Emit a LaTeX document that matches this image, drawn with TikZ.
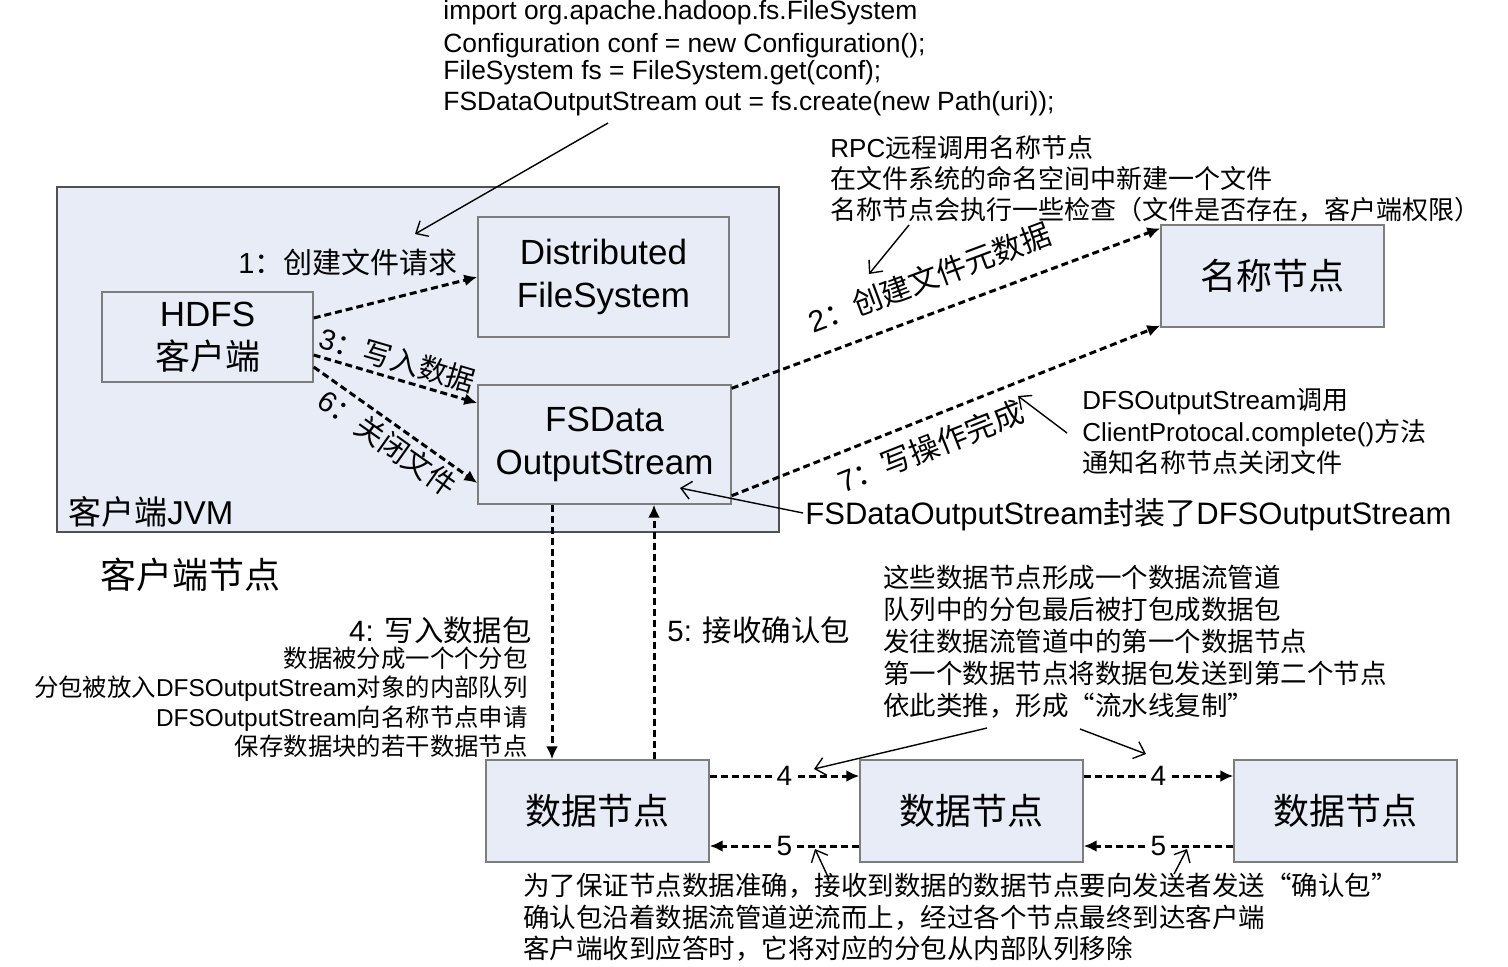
\documentclass[tikz,border=0pt]{standalone}
\usepackage{fontspec}
\setmainfont{Liberation Sans}
\newfontfamily\zhfont{Noto Sans CJK SC}
\newfontfamily\enfont{Liberation Sans}
\usetikzlibrary{arrows.meta}

% switch to the CJK face for Chinese characters
\XeTeXinterchartokenstate=1
\newXeTeXintercharclass\zhclass
\newcount\zhcode
\zhcode="4E00
\loop
  \XeTeXcharclass\zhcode=\zhclass
  \advance\zhcode by 1
\ifnum\zhcode<"9FA6 \repeat
\XeTeXcharclass"FF08=\zhclass
\XeTeXcharclass"FF09=\zhclass
\XeTeXcharclass"FF0C=\zhclass
\XeTeXcharclass"FF1A=\zhclass
\XeTeXcharclass"201C=\zhclass
\XeTeXcharclass"201D=\zhclass
\XeTeXinterchartoks 0 \zhclass = {\zhfont}
\XeTeXinterchartoks 4095 \zhclass = {\zhfont}
\XeTeXinterchartoks \zhclass 0 = {\enfont}
\XeTeXinterchartoks 4095 0 = {\enfont}

\definecolor{boxfill}{RGB}{231,236,246}
\definecolor{boxline}{RGB}{125,125,125}
\definecolor{jvmline}{RGB}{80,80,80}

\tikzset{
  box/.style={draw=boxline, fill=boxfill, line width=0.7pt, align=center, inner sep=0pt},
  jvmbox/.style={draw=jvmline, fill=boxfill, line width=0.6pt, inner sep=0pt},
  flow/.style={line width=1.5pt, dash pattern=on 3.5pt off 2pt, -{Latex[length=6.5pt,width=6pt]}},
  note/.style={line width=0.7pt, -{Straight Barb[length=5pt,width=9pt]}},
  txt/.style={align=left, inner sep=0pt, anchor=west},
  lbl/.style={inner sep=1pt, font=\fontsize{14.5}{17}\selectfont},
  biglbl/.style={inner sep=1pt, font=\fontsize{15}{18}\selectfont},
  hop/.style={inner sep=1pt, fill=white, font=\fontsize{14}{16}\selectfont},
}
\newcommand{\boxfont}{\fontsize{17.5}{21.5}\selectfont}
\newcommand{\nodefont}{\fontsize{18}{21}\selectfont}

\begin{document}
\begin{tikzpicture}[x=0.5pt,y=-0.5pt]
\useasboundingbox (0,0) rectangle (1508,966);

% client node
\node[jvmbox, minimum width=361pt, minimum height=172.5pt] (jvm) at (418,359.5) {};
\node[txt, font=\fontsize{16.5}{19}\selectfont] (jvmlbl) at (68,512) {客户端JVM};
\node[txt, font=\nodefont] (clnode) at (100,575) {客户端节点};

\node[box, minimum width=105.5pt, minimum height=45pt, font=\boxfont] (hdfs) at (207.5,337) {HDFS\\客户端};
\node[box, minimum width=125.5pt, minimum height=60pt, font=\boxfont] (dfs) at (603.5,277) {Distributed\\FileSystem};
\node[box, minimum width=126.5pt, minimum height=59.5pt, font=\boxfont] (fsdos) at (604.5,444.5) {FSData\\OutputStream};

% name node and data nodes
\node[box, minimum width=111.5pt, minimum height=51pt, font=\nodefont] (nn) at (1272.5,276) {名称节点};
\node[box, minimum width=111.5pt, minimum height=51pt, font=\nodefont] (dn1) at (597.5,811) {数据节点};
\node[box, minimum width=111.5pt, minimum height=51pt, font=\nodefont] (dn2) at (971.5,811) {数据节点};
\node[box, minimum width=111.5pt, minimum height=51pt, font=\nodefont] (dn3) at (1345.5,811) {数据节点};

% client side calls
\draw[flow] ([yshift=9.5pt]hdfs.east) -- (dfs.west);
\node[lbl] (l1) at (348,262) {1：创建文件请求};
\draw[flow] ([yshift=-9pt]hdfs.east) -- ([yshift=20.75pt]fsdos.west)
  node[lbl, sloped, pos=0.48, above=1pt] (l3) {3：写入数据};
\draw[flow] ([yshift=-15pt]hdfs.east) -- ([yshift=-19.25pt]fsdos.west)
  node[lbl, sloped, pos=0.52, below=1pt] (l6) {6：关闭文件};

% to the name node
\draw[flow] ([yshift=-2pt]fsdos.north east) -- ([yshift=-2pt]nn.north west)
  node[biglbl, sloped, pos=0.49, above=8.5pt] (l2) {2：创建文件元数据};
\draw[flow] ([yshift=4.5pt]fsdos.south east) -- ([yshift=1pt]nn.south west)
  node[biglbl, sloped, pos=0.44, below=5pt] (l7) {7：写操作完成};

% packets and acks
\coordinate (x4) at (552,0);
\coordinate (x5) at (654,0);
\draw[flow] (fsdos.south -| x4) -- (dn1.north -| x4);
\draw[flow] (dn1.north -| x5) -- (fsdos.south -| x5);
\node[txt, anchor=east, font=\fontsize{14.7}{17}\selectfont] (l4) at (532,630) {4: 写入数据包};
\node[txt, font=\fontsize{14.7}{17}\selectfont] (l5) at (667,630) {5: 接收确认包};
\node[txt, anchor=east, align=right, font=\fontsize{12.2}{14.7}\selectfont] (split) at (528,702)
  {数据被分成一个个分包\\分包被放入DFSOutputStream对象的内部队列\\DFSOutputStream向名称节点申请\\保存数据块的若干数据节点};

\draw[flow] ([yshift=17.5pt]dn1.east) -- ([yshift=17.5pt]dn2.west) node[hop, midway] (h1) {4};
\draw[flow] ([yshift=17.5pt]dn2.east) -- ([yshift=17.5pt]dn3.west) node[hop, midway] (h2) {4};
\draw[flow] ([yshift=-17.5pt]dn2.west) -- ([yshift=-17.5pt]dn1.east) node[hop, midway] (h3) {5};
\draw[flow] ([yshift=-17.5pt]dn3.west) -- ([yshift=-17.5pt]dn2.east) node[hop, midway] (h4) {5};

% notes
\node[txt, font=\fontsize{13.2}{15.5}\selectfont] (code) at (443,58.5)
  {import org.apache.hadoop.fs.FileSystem\\[1pt]Configuration conf = new Configuration();\\[-2pt]FileSystem fs = FileSystem.get(conf);\\FSDataOutputStream out = fs.create(new Path(uri));};
\coordinate (c1a) at (608,123);
\coordinate (c1b) at (415,234);
\draw[note] (c1a) -- (c1b);

\node[txt, font=\fontsize{13}{15.5}\selectfont] (rpc) at (830,179)
  {RPC远程调用名称节点\\在文件系统的命名空间中新建一个文件\\名称节点会执行一些检查（文件是否存在，客户端权限）};
\coordinate (c2a) at (909,225);
\coordinate (c2b) at (869,274);
\draw[note] (c2a) -- (c2b);

\node[txt, font=\fontsize{13}{15.75}\selectfont] (complete) at (1082,431.5)
  {DFSOutputStream调用\\ClientProtocal.complete()方法\\通知名称节点关闭文件};
\coordinate (c7a) at (1067,433);
\coordinate (c7b) at (1018,396);
\draw[note] (c7a) -- (c7b);

\node[txt, font=\fontsize{15.5}{18}\selectfont] (wrap) at (805,515) {FSDataOutputStream封装了DFSOutputStream};
\coordinate (cwa) at (803,513);
\coordinate (cwb) at (680,488);
\draw[note] (cwa) -- (cwb);

\node[txt, font=\fontsize{13.25}{16}\selectfont] (pipe) at (883,642)
  {这些数据节点形成一个数据流管道\\队列中的分包最后被打包成数据包\\发往数据流管道中的第一个数据节点\\第一个数据节点将数据包发送到第二个节点\\依此类推，形成“流水线复制”};
\coordinate (cpa) at (987,728);
\coordinate (cpb) at (814,769);
\draw[note] (cpa) -- (cpb);
\coordinate (cqa) at (1080,729);
\coordinate (cqb) at (1146,754);
\draw[note] (cqa) -- (cqb);

\node[txt, font=\fontsize{13.25}{15.75}\selectfont] (ack) at (523,917.5)
  {为了保证节点数据准确，接收到数据的数据节点要向发送者发送“确认包”\\确认包沿着数据流管道逆流而上，经过各个节点最终到达客户端\\客户端收到应答时，它将对应的分包从内部队列移除};
\coordinate (caa) at (829,879);
\coordinate (cab) at (815,849);
\draw[note] (caa) -- (cab);
\coordinate (cba) at (1174,874);
\coordinate (cbb) at (1187,849);
\draw[note] (cba) -- (cbb);
\end{tikzpicture}
\end{document}
